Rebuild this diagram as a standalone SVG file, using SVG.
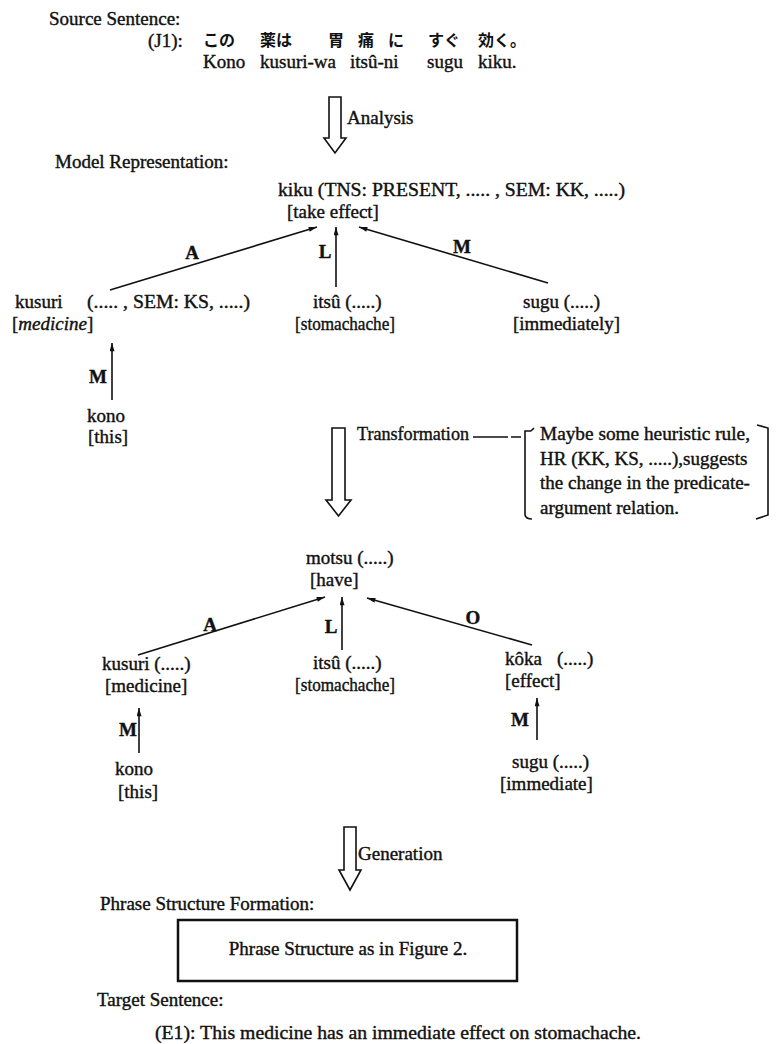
<svg xmlns="http://www.w3.org/2000/svg" width="783" height="1044" viewBox="0 0 783 1044">
<defs>
<style>
text{font-family:"Liberation Serif","Times New Roman",serif;font-size:19px;fill:#111;stroke:#111;stroke-width:0.4}
.jp{font-family:"Noto Sans CJK JP",sans-serif;font-size:16px;font-weight:700;stroke-width:0}
.lbl{font-weight:bold;text-anchor:middle}
.it{font-style:italic}
.edge{stroke:#111;stroke-width:1.6;fill:none;marker-end:url(#ah)}
.hollow{fill:#fff;stroke:#111;stroke-width:1.6}
.br{fill:none;stroke:#111;stroke-width:1.6}
.box{fill:#fff;stroke:#111;stroke-width:2.5}
</style>
<marker id="ah" viewBox="0 0 10 6" refX="10" refY="3" markerWidth="9" markerHeight="5" markerUnits="userSpaceOnUse" orient="auto"><path d="M0,0 L10,3 L0,6 z" fill="#111"/></marker>
</defs>
<rect width="783" height="1044" fill="#fff"/>

<g id="source">
<text x="49" y="25">Source Sentence:</text>
<text x="148" y="47">(J1):</text>
<text class="jp" x="203" y="46">この</text>
<text class="jp" x="260" y="46">薬は</text>
<text class="jp" x="328" y="46" textLength="76" lengthAdjust="spacing">胃痛に</text>
<text class="jp" x="428" y="46">すぐ</text>
<text class="jp" x="478" y="46">効く。</text>
<text x="203" y="68">Kono</text>
<text x="260" y="68">kusuri-wa</text>
<text x="350" y="68">itsû-ni</text>
<text x="427" y="68">sugu</text>
<text x="478" y="68">kiku.</text>
</g>

<g id="analysis">
<path class="hollow" d="M329,97 H341 V138 H346 L335,153 L324,138 H329 Z"/>
<text x="347" y="124">Analysis</text>
</g>

<text id="model-title" x="55" y="168">Model Representation:</text>

<g id="kiku">
<text x="278" y="196" textLength="347" lengthAdjust="spacingAndGlyphs">kiku (TNS: PRESENT, ..... , SEM: KK, .....)</text>
<text x="287" y="218">[take effect]</text>
</g>
<g id="kusuri1">
<text x="15" y="308">kusuri</text>
<text x="87" y="308" textLength="163" lengthAdjust="spacingAndGlyphs">(..... , SEM: KS, .....)</text>
<text x="12" y="330">[<tspan class="it">medicine</tspan>]</text>
</g>
<g id="itsu1">
<text x="313" y="308">itsû (.....)</text>
<text x="295" y="330" textLength="100" lengthAdjust="spacingAndGlyphs">[stomachache]</text>
</g>
<g id="sugu1">
<text x="523" y="308">sugu (.....)</text>
<text x="513" y="330" textLength="107" lengthAdjust="spacingAndGlyphs">[immediately]</text>
</g>
<g id="kono1">
<text x="87" y="422">kono</text>
<text x="88" y="443">[this]</text>
</g>

<g id="transformation">
<path class="hollow" d="M332,428 H345 V500 H351 L338.5,516 L326,500 H332 Z"/>
<text x="357" y="440" textLength="112" lengthAdjust="spacingAndGlyphs">Transformation</text>
<path class="br" d="M473,437 H508 M511,437 H521"/>
</g>
<g id="heuristic-note">
<path class="br" d="M531,431 H525 V515 Q526,519 532,519 M531,431 l3,-3"/>
<path class="br" d="M757,425 L768,428 V515 L756,519"/>
<text x="540" y="440" textLength="210" lengthAdjust="spacingAndGlyphs">Maybe some heuristic rule,</text>
<text x="540" y="465">HR (KK, KS, .....),suggests</text>
<text x="540" y="489">the change in the predicate-</text>
<text x="540" y="514">argument relation.</text>
</g>

<g id="motsu">
<text x="306" y="564">motsu (.....)</text>
<text x="310" y="586">[have]</text>
</g>
<g id="kusuri2">
<text x="102" y="670">kusuri (.....)</text>
<text x="105" y="692">[medicine]</text>
</g>
<g id="itsu2">
<text x="313" y="669">itsû (.....)</text>
<text x="295" y="691" textLength="100" lengthAdjust="spacingAndGlyphs">[stomachache]</text>
</g>
<g id="koka">
<text x="505" y="665">kôka<tspan x="557">(.....)</tspan></text>
<text x="505" y="687">[effect]</text>
</g>
<g id="kono2">
<text x="115" y="775">kono</text>
<text x="118" y="798">[this]</text>
</g>
<g id="sugu2">
<text x="512" y="768">sugu (.....)</text>
<text x="500" y="790">[immediate]</text>
</g>

<g id="generation">
<path class="hollow" d="M344,827 H356 V870 H361 L350,890 L339,870 H344 Z"/>
<text x="358" y="860">Generation</text>
</g>

<text id="psf-title" x="100" y="910">Phrase Structure Formation:</text>
<g id="phrase-box">
<rect class="box" x="178" y="920" width="339" height="61"/>
<text x="348" y="955" text-anchor="middle">Phrase Structure as in Figure 2.</text>
</g>
<text id="target-title" x="97" y="1006">Target Sentence:</text>
<text id="e1" x="155" y="1039" textLength="486" lengthAdjust="spacingAndGlyphs">(E1):  This medicine has an immediate effect on stomachache.</text>

<g id="connectors">
<path class="edge" d="M110,290 L317,227"/>
<path class="edge" d="M336,287 V227"/>
<path class="edge" d="M548,283 L359,227"/>
<path class="edge" d="M112,400 V343"/>
<path class="edge" d="M138,655 L325,597"/>
<path class="edge" d="M342,650 V597"/>
<path class="edge" d="M532,645 L367,598"/>
<path class="edge" d="M139,753 V708"/>
<path class="edge" d="M537,740 V698"/>
<text class="lbl" x="192" y="259">A</text>
<text class="lbl" x="325" y="258">L</text>
<text class="lbl" x="462" y="253">M</text>
<text class="lbl" x="98" y="383">M</text>
<text class="lbl" x="210" y="631">A</text>
<text class="lbl" x="331" y="633">L</text>
<text class="lbl" x="473" y="624">O</text>
<text class="lbl" x="128" y="736">M</text>
<text class="lbl" x="520" y="726">M</text>
</g>
</svg>
